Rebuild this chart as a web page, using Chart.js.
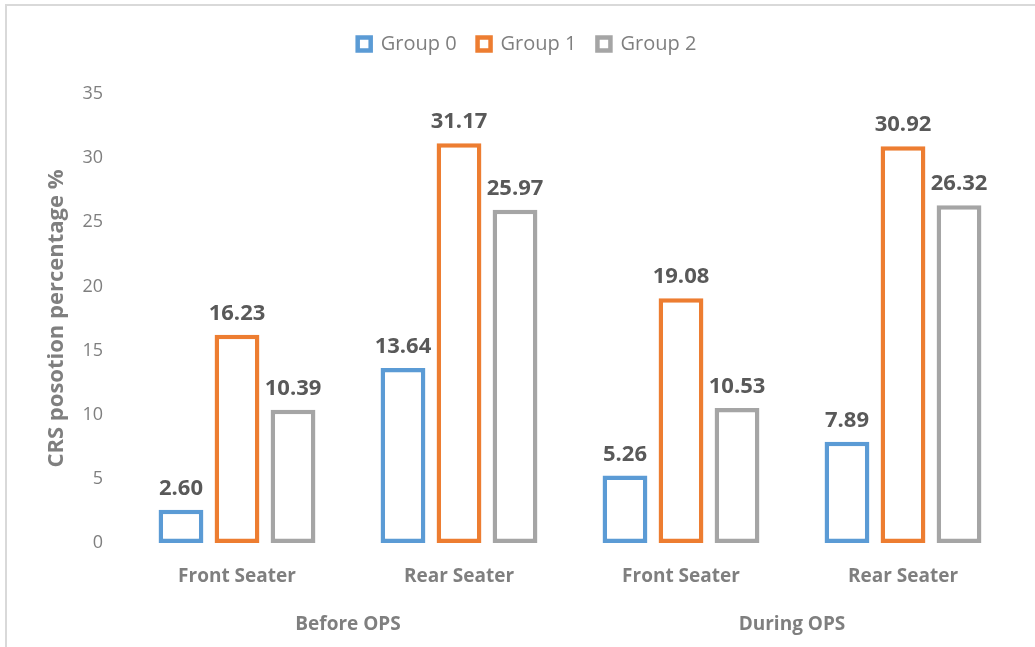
<!DOCTYPE html>
<html>
<head>
<meta charset="utf-8">
<script src="https://cdn.jsdelivr.net/npm/chart.js@4.4.1/dist/chart.umd.min.js"></script>
<style>
  html, body { margin: 0; padding: 0; background: #fff; overflow: hidden; }
  #wrap { position: relative; width: 1035px; height: 647px; }
  #frame {
    position: absolute; left: 5px; top: 4px; width: 1100px; height: 700px;
    border: 2px solid #d9d9d9; pointer-events: none;
  }
</style>
</head>
<body>
<div id="wrap">
  <canvas id="chart" width="1035" height="647"></canvas>
  <div id="frame"></div>
</div>
<script>
const seaters = ["Front Seater", "Rear Seater", "Front Seater", "Rear Seater"];
const periods = ["Before OPS", "During OPS"];
const group0 = [2.60, 13.64, 5.26, 7.89];
const group1 = [16.23, 31.17, 19.08, 30.92];
const group2 = [10.39, 25.97, 10.53, 26.32];
const yTicks = [0, 5, 10, 15, 20, 25, 30, 35];

const groupColors = ["#5b9bd5", "#ed7d31", "#a5a5a5"];
const axisGray = "#7f7f7f";
const fontFamily = "'Open Sans', sans-serif";

// value labels above each bar
const barValues = {
  id: "barValues",
  afterDatasetsDraw(chart) {
    const ctx = chart.ctx;
    ctx.save();
    ctx.font = "bold 22px " + fontFamily;
    ctx.fillStyle = "#595959";
    ctx.textAlign = "center";
    ctx.textBaseline = "alphabetic";
    chart.data.datasets.forEach((ds, i) => {
      chart.getDatasetMeta(i).data.forEach((bar, j) => {
        ctx.fillText(ds.data[j].toFixed(2), bar.x, bar.y - 15);
      });
    });
    ctx.restore();
  },
};

// leave extra room between the legend row and the plot
const legendGap = {
  id: "legendGap",
  beforeLayout(chart) {
    const legend = chart.legend;
    if (!legend || legend._gapped) return;
    const fit = legend.fit;
    legend.fit = function () {
      fit.call(this);
      this.height += 30;
    };
    legend._gapped = true;
  },
};

const makeSet = (label, data, color) => ({
  label: label,
  data: data,
  backgroundColor: "#ffffff",
  borderColor: color,
  borderWidth: 4.5,
  borderSkipped: false,
  barPercentage: 0.8,
  categoryPercentage: 0.757,
});

new Chart(document.getElementById("chart"), {
  type: "bar",
  plugins: [barValues, legendGap],
  data: {
    labels: seaters,
    datasets: [
      makeSet("Group 0", group0, groupColors[0]),
      makeSet("Group 1", group1, groupColors[1]),
      makeSet("Group 2", group2, groupColors[2]),
    ],
  },
  options: {
    responsive: false,
    animation: false,
    layout: { padding: { left: 40, right: 21, top: 10, bottom: 0 } },
    plugins: {
      tooltip: { enabled: false },
      legend: {
        position: "top",
        labels: {
          boxWidth: 13,
          boxHeight: 13,
          padding: 21,
          color: axisGray,
          font: { family: fontFamily, size: 20 },
        },
      },
    },
    scales: {
      y: {
        min: 0,
        max: 35,
        afterBuildTicks: (s) => { s.ticks = yTicks.map((v) => ({ value: v })); },
        afterFit: (s) => { s.width = 86; s.paddingTop = 94; },
        grid: { display: false, drawTicks: false },
        border: { display: false },
        ticks: { padding: 23, color: axisGray, font: { family: fontFamily, size: 18 } },
        title: {
          display: true,
          text: "CRS posotion percentage %",
          color: axisGray,
          padding: { top: 4, bottom: 0 },
          font: { family: fontFamily, size: 22, weight: "bold" },
        },
      },
      x: {
        weight: 0,
        afterFit: (s) => { s.height = 50; },
        grid: { display: false, drawTicks: false },
        border: { display: false },
        ticks: { padding: 22, color: axisGray, font: { family: fontFamily, size: 19, weight: "bold" } },
      },
      x2: {
        type: "category",
        position: "bottom",
        weight: 1,
        labels: periods,
        offset: true,
        afterFit: (s) => { s.height = 54; },
        grid: { display: false, drawTicks: false },
        border: { display: false },
        ticks: { padding: 20, color: axisGray, font: { family: fontFamily, size: 19, weight: "bold" } },
      },
    },
  },
});
</script>
</body>
</html>
